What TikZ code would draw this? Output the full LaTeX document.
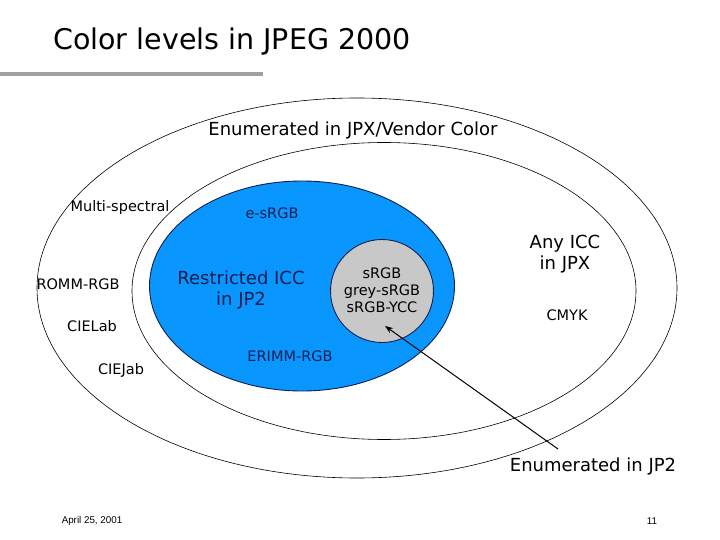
\documentclass[tikz,border=0pt]{standalone}
\usepackage{fontspec}
\setmainfont{DejaVu Sans}
\newfontfamily\footfont{Liberation Sans}
\usepackage{xcolor}
\usetikzlibrary{shapes.geometric, arrows.meta, positioning}

\definecolor{iccblue}{RGB}{10,150,255}
\definecolor{iccnavy}{RGB}{15,30,80}
\definecolor{enumgrey}{RGB}{200,200,200}
\definecolor{bargrey}{RGB}{160,160,160}

\begin{document}
\begin{tikzpicture}[
    x=1pt, y=-1pt,
    level/.style={ellipse, draw, line width=0.6pt, inner sep=0pt},
    restricted/.style={ellipse, draw=iccnavy, fill=iccblue, line width=0.9pt, inner sep=0pt},
    enumjp/.style={circle, draw=iccnavy, fill=enumgrey, line width=0.9pt, inner sep=0pt, minimum size=103pt},
    big/.style={font=\fontsize{18}{21}\selectfont, align=center},
    small/.style={font=\fontsize{14.5}{17}\selectfont, align=center},
    foot/.style={font=\footfont\fontsize{9.8}{11}\selectfont},
    arrow/.style={-{Stealth[length=8pt, width=6pt]}, line width=1pt}
]
    \useasboundingbox (0,0) rectangle (720,540);

    % title
    \node[font=\fontsize{28.5}{32}\selectfont] (title) at (232,42) {Color levels in JPEG 2000};
    \fill[bargrey] (0,72) rectangle (263,76);

    % nested colour levels
    \node[level, minimum width=640pt, minimum height=380pt] (vendor) at (357,288) {};
    \node[level, minimum width=504pt, minimum height=297pt] (jpx) at (384,291) {};
    \node[restricted, minimum width=305pt, minimum height=210pt] (jp2) at (302,286) {};
    \node[enumjp] (enum) at (382,291) {};

    \node[big] (vendortxt) at (353,130) {Enumerated in JPX/Vendor Color};
    \node[small] (multi) at (120,207) {Multi-spectral};
    \node[small] (romm) at (78,284) {ROMM-RGB};
    \node[small] (cielab) at (92,326) {CIELab};
    \node[small] (ciejab) at (121,370) {CIEJab};

    \node[big] (anyicc) at (565,254) {Any ICC\\in JPX};
    \node[small] (cmyk) at (567,315) {CMYK};

    \node[small, text=iccnavy] (esrgb) at (272,213) {e-sRGB};
    \node[big, text=iccnavy] (restrtxt) at (241,290) {Restricted ICC\\in JP2};
    \node[small, text=iccnavy] (erimm) at (290,356) {ERIMM-RGB};

    \node[small] (srgb) at (382,290) {sRGB\\grey-sRGB\\sRGB-YCC};

    \node[big] (jp2txt) at (593,466) {Enumerated in JP2};
    \coordinate (from) at (558,449);
    \coordinate (to) at (385,326);
    \draw[arrow] (from) -- (to);

    % footer
    \node[foot] (date) at (92,521) {April 25, 2001};
    \node[foot] (page) at (652,521) {11};
\end{tikzpicture}
\end{document}
